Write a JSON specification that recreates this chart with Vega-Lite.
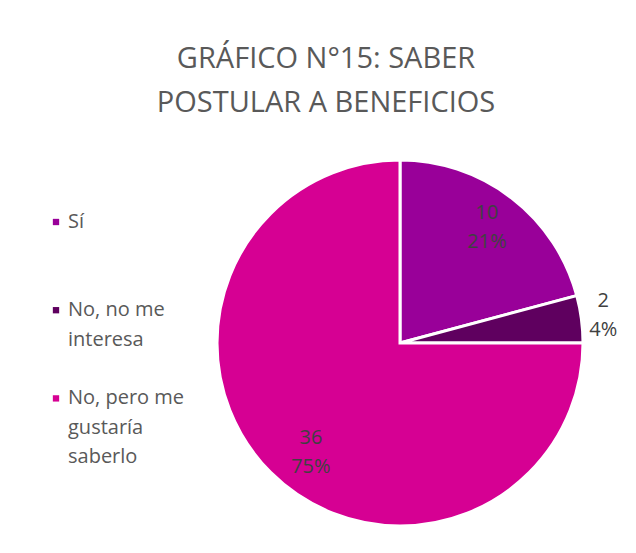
{
  "$schema": "https://vega.github.io/schema/vega-lite/v6.json",
  "width": 366,
  "height": 366,
  "autosize": {"type": "none"},
  "padding": {"left": 217, "top": 160, "right": 53, "bottom": 27},
  "background": "white",
  "title": {
    "text": ["GRÁFICO N°15: SABER", "POSTULAR A BENEFICIOS"],
    "font": "Open Sans",
    "fontSize": 29,
    "fontWeight": "normal",
    "color": "#595959",
    "lineHeight": 44,
    "anchor": "middle",
    "dx": -74,
    "offset": 36
  },
  "data": {
    "values": [
      {"k": 1, "cat": "Sí", "n": 10},
      {"k": 2, "cat": "No, no me interesa", "n": 2},
      {"k": 3, "cat": "No, pero me gustaría saberlo", "n": 36}
    ]
  },
  "transform": [
    {"joinaggregate": [{"op": "sum", "field": "n", "as": "tot"}]},
    {"calculate": "[datum.n + '', format(datum.n / datum.tot, '.0%')]", "as": "lbl"}
  ],
  "encoding": {
    "theta": {"field": "n", "type": "quantitative", "stack": true},
    "order": {"field": "k", "type": "quantitative"}
  },
  "layer": [
    {
      "mark": {"type": "arc", "outerRadius": 183, "stroke": "white", "strokeWidth": 3},
      "encoding": {
        "color": {
          "field": "cat",
          "type": "nominal",
          "scale": {
            "domain": ["Sí", "~1", "~2", "No, no me interesa", "~interesa", "~3", "No, pero me gustaría saberlo", "~gustaría", "~saberlo"],
            "range": ["#990099", "white", "white", "#5F005F", "white", "white", "#D60093", "white", "white"]
          },
          "legend": {
            "title": null,
            "orient": "none",
            "legendX": -171,
            "legendY": 52,
            "symbolType": "square",
            "symbolSize": 40,
            "symbolStrokeWidth": 0,
            "labelFont": "Open Sans",
            "labelFontSize": 20,
            "labelColor": "#595959",
            "labelOffset": 2,
            "labelLimit": 200,
            "rowPadding": 9.4,
            "labelExpr": "{'Sí': 'Sí', 'No, no me interesa': 'No, no me', '~interesa': 'interesa', 'No, pero me gustaría saberlo': 'No, pero me', '~gustaría': 'gustaría', '~saberlo': 'saberlo'}[datum.label] || ''"
          }
        }
      }
    },
    {
      "mark": {"type": "text", "font": "Open Sans", "fontSize": 20, "color": "#404040", "lineHeight": 29, "radius": 143, "dy": -17},
      "encoding": {
        "text": {"condition": {"test": "datum.n != 10", "value": ""}, "field": "lbl"}
      }
    },
    {
      "mark": {"type": "text", "font": "Open Sans", "fontSize": 20, "color": "#404040", "lineHeight": 29, "radius": 143, "dy": -6, "dx": 12},
      "encoding": {
        "text": {"condition": {"test": "datum.n != 36", "value": ""}, "field": "lbl"}
      }
    },
    {
      "mark": {"type": "text", "font": "Open Sans", "fontSize": 20, "color": "#404040", "lineHeight": 29, "radius": 205, "dy": -15},
      "encoding": {
        "text": {"condition": {"test": "datum.n != 2", "value": ""}, "field": "lbl"}
      }
    }
  ]
}
